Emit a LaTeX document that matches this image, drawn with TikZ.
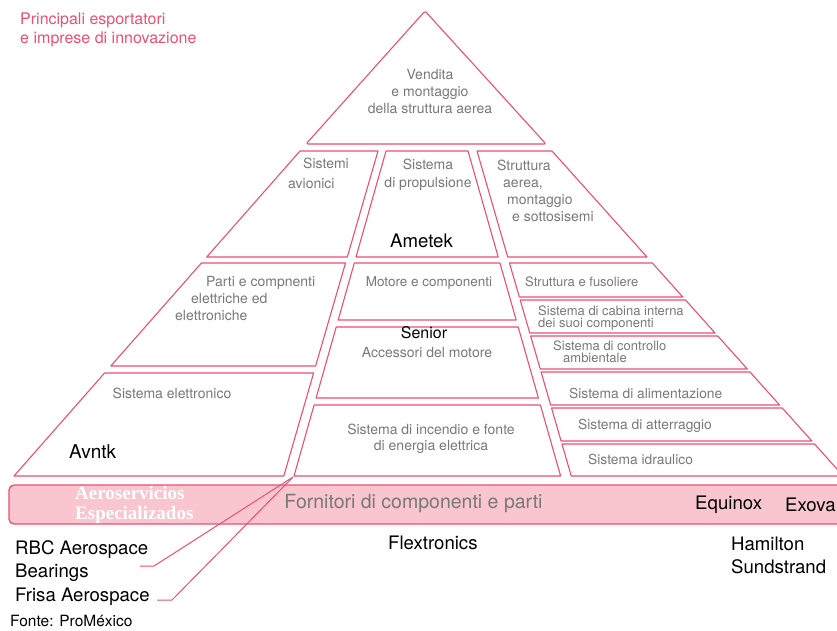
\documentclass[tikz,border=0pt]{standalone}
\usepackage{fontspec}
\setmainfont{TeX Gyre Heros}
\newfontfamily\bandfont{Liberation Serif}
\usetikzlibrary{positioning}
\definecolor{pyrred}{HTML}{EC4F71}
\definecolor{bandpink}{HTML}{F9C5CF}
\definecolor{cellgray}{HTML}{787878}
\tikzset{
  cell/.style={draw=pyrred, line width=1.1pt, line join=round},
  lbl/.style={text=cellgray, font=\fontsize{14}{17}\selectfont, inner sep=0pt, align=center},
  smlbl/.style={text=cellgray, font=\fontsize{13}{12}\selectfont, inner sep=0pt, align=left, anchor=west},
  firm/.style={text=black, font=\fontsize{18.6}{22.5}\selectfont, inner sep=0pt, align=left},
}
\begin{document}
\begin{tikzpicture}[x=1pt,y=-1pt]
\useasboundingbox (0,0) rectangle (837,630);

% title
\node[text=pyrred, font=\fontsize{16}{19}\selectfont, inner sep=0pt, align=left, anchor=west]
  (title) at (20,29.5) {Principali esportatori\\e imprese di innovazione};

% band of suppliers
\draw[draw=pyrred, fill=bandpink, line width=1.3pt, rounded corners=5pt] (9,485) rectangle (860,524);

% top
\draw[cell, rounded corners=2pt] (425,11) -- (546,144) -- (306,144) -- cycle;
% second row
\draw[cell] (300,151) -- (378,151) -- (347.3,257) -- (206.7,257) -- cycle;
\draw[cell] (386,151) -- (468,151) -- (498.2,257) -- (356,257) -- cycle;
\draw[cell] (477,151) -- (552,151) -- (647,257) -- (507.7,257) -- cycle;
% left column
\draw[cell] (201.4,263) -- (345.5,263) -- (315.6,366) -- (110.8,366) -- cycle;
\draw[cell] (104.6,373) -- (313.6,373) -- (283.8,476) -- (14,476) -- cycle;
% centre column
\draw[cell] (354.3,263) -- (499.9,263) -- (516.2,320) -- (338.2,320) -- cycle;
\draw[cell] (336.2,327) -- (518.2,327) -- (538.4,398) -- (316.1,398) -- cycle;
\draw[cell] (314.1,405) -- (540.4,405) -- (560.6,476) -- (294,476) -- cycle;
% right column
\foreach \a/\b in {263/297,300/333,336/369,372/405,408/441,444/476}
  \draw[cell] ({477+0.29*(\a-151)},\a) -- ({552+0.896*(\a-151)},\a)
    -- ({552+0.896*(\b-151)},\b) -- ({477+0.29*(\b-151)},\b) -- cycle;

% labels
\node[lbl] (vendita) at (430,91) {Vendita\\e montaggio\\della struttura aerea};
\node[lbl, align=left, anchor=west] (avionici) at (288,173) {\hspace*{15pt}Sistemi\\[3pt]avionici};
\node[lbl] (propulsione) at (428,175) {Sistema\\[1pt]di propulsione};
\node[lbl, align=left, anchor=west] (struttura) at (497,190.5)
  {Struttura\\\hspace*{6pt}aerea,\\\hspace*{10pt}montaggio\\\hspace*{15pt}e sottosisemi};
\node[firm] (ametek) at (421.5,241) {Ametek};
\node[lbl, align=left, anchor=west] (elettriche) at (175,298.5)
  {\hspace*{31pt}Parti e compnenti\\\hspace*{16pt}elettriche ed\\elettroniche};
\node[lbl, font=\fontsize{13.5}{17}\selectfont] (motore) at (429,283) {Motore e componenti};
\node[firm, font=\fontsize{16}{18}\selectfont] (senior) at (424,333) {Senior};
\node[lbl] (accessori) at (427,352) {Accessori del motore};
\node[lbl] (elettronico) at (172,393) {Sistema elettronico};
\node[firm, font=\fontsize{19}{22}\selectfont, anchor=west] (avntk) at (69,452) {Avntk};
\node[lbl, font=\fontsize{14}{16}\selectfont] (incendio) at (431,439)
  {Sistema di incendio e fonte\\di energia elettrica};
\node[smlbl] (fusoliere) at (525,282) {Struttura e fusoliere};
\node[smlbl] (cabina) at (538,318) {Sistema di cabina interna\\dei suoi componenti};
\node[smlbl] (controllo) at (553,352) {Sistema di controllo\\\hspace*{10pt}ambientale};
\node[smlbl, font=\fontsize{13.8}{14}\selectfont] (alimentazione) at (569,393) {Sistema di alimentazione};
\node[smlbl, font=\fontsize{13.8}{14}\selectfont] (atterraggio) at (578,426) {Sistema di atterraggio};
\node[smlbl, font=\fontsize{13.8}{14}\selectfont] (idraulico) at (588,459) {Sistema idraulico};

% band texts
\node[text=white, font=\bandfont\bfseries\fontsize{19}{20}\selectfont, inner sep=0pt, align=left, anchor=west]
  (aeroserv) at (75,505) {Aeroservicios\\Especializados};
\node[text=cellgray, font=\fontsize{19.5}{20}\selectfont, inner sep=0pt] (fornitori) at (413.5,504) {Fornitori di componenti e parti};
\node[firm, anchor=west] (equinox) at (695,504.5) {Equinox};
\node[firm, anchor=west] (exova) at (785,504.5) {Exova};

% firms below
\node[firm, anchor=west] (flex) at (388,543) {Flextronics};
\node[firm, anchor=west] (hamilton) at (731,555.5) {Hamilton\\Sundstrand};
\node[firm, anchor=west] (rbc) at (15,561) {RBC Aerospace\\Bearings};
\node[firm, anchor=west] (frisa) at (15,597) {Frisa Aerospace};
\node[firm, font=\fontsize{15.5}{16}\selectfont, anchor=west] (fonte) at (10,620.5) {Fonte: ProMéxico};

% connectors
\coordinate (hub) at (293,477);
\coordinate (rbcend) at (140,566);
\coordinate (frisaend) at (157,600);
\draw[pyrred, line width=1pt] (hub) -- +(-139,89) -- (rbcend);
\draw[pyrred, line width=1pt] (hub) -- +(-121,123) -- (frisaend);
\end{tikzpicture}
\end{document}
